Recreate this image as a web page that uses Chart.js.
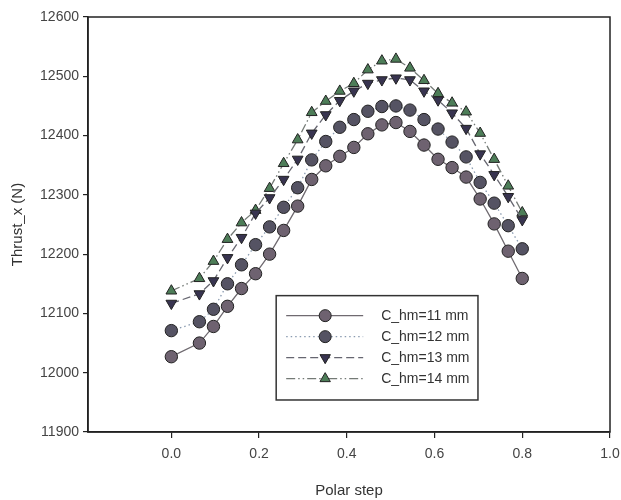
<!DOCTYPE html>
<html>
<head>
<meta charset="utf-8">
<script src="https://cdn.jsdelivr.net/npm/chart.js@4/dist/chart.umd.min.js"></script>
<style>
html,body{margin:0;padding:0;background:#fff;}
#wrap{width:621px;height:500px;position:relative;}
</style>
</head>
<body>
<div id="wrap"><canvas id="c" width="621" height="500"></canvas></div>
<script>
const polarStep = [0, 0.064, 0.096, 0.128, 0.16, 0.192, 0.224, 0.256, 0.288, 0.32, 0.352, 0.384, 0.416, 0.448, 0.48, 0.512, 0.544, 0.576, 0.608, 0.64, 0.672, 0.704, 0.736, 0.768, 0.8];
const chm11 = [12027, 12050, 12078, 12112, 12142, 12167, 12200, 12240, 12281, 12326, 12349, 12365, 12380, 12403, 12418, 12422, 12407, 12384, 12360, 12346, 12330, 12293, 12251, 12205, 12159];
const chm12 = [12071, 12086, 12107, 12150, 12182, 12216, 12246, 12279, 12312, 12359, 12390, 12414, 12427, 12441, 12449, 12450, 12443, 12427, 12411, 12389, 12364, 12321, 12286, 12248, 12209];
const chm13 = [12117, 12133, 12155, 12194, 12228, 12269, 12295, 12326, 12360, 12404, 12435, 12459, 12475, 12488, 12494, 12497, 12494, 12475, 12460, 12438, 12412, 12369, 12334, 12297, 12258];
const chm14 = [12138, 12159, 12188, 12225, 12253, 12274, 12311, 12353, 12393, 12439, 12458, 12475, 12488, 12511, 12526, 12529, 12514, 12493, 12471, 12455, 12440, 12404, 12360, 12315, 12270];
const seriesLabels = ["C_hm=11 mm", "C_hm=12 mm", "C_hm=13 mm", "C_hm=14 mm"];
const xTicks = [0, 0.2, 0.4, 0.6, 0.8, 1.0];
const yTicks = [11900, 12000, 12100, 12200, 12300, 12400, 12500, 12600];

const pts = arr => arr.map((v, i) => ({x: polarStep[i], y: v}));

const styles = [
  {line: '#6f6a70', dash: [], fill: '#6e6270', style: 'circle', rot: 0},
  {line: '#8a9bb0', dash: [1.5, 3], fill: '#555363', style: 'circle', rot: 0},
  {line: '#666670', dash: [8, 4], fill: '#383450', style: 'triangle', rot: 180},
  {line: '#747a76', dash: [9, 3, 1.5, 3, 1.5, 3], fill: '#4d7d58', style: 'triangle', rot: 0}
];
const seriesData = [chm11, chm12, chm13, chm14];

const datasets = seriesData.map((arr, k) => ({
  label: seriesLabels[k],
  data: pts(arr),
  borderColor: styles[k].line,
  borderWidth: 1.3,
  borderDash: styles[k].dash,
  pointStyle: styles[k].style,
  rotation: styles[k].rot,
  pointRadius: 6.2,
  pointBackgroundColor: styles[k].fill,
  pointBorderColor: '#222',
  pointBorderWidth: 1,
  tension: 0,
  fill: false
}));

const framePlugin = {
  id: 'frame',
  afterDatasetsDraw(chart) {
    const {ctx, chartArea: a} = chart;
    ctx.save();
    ctx.strokeStyle = '#222';
    ctx.lineWidth = 1.5;
    ctx.strokeRect(a.left, a.top, a.right - a.left, a.bottom - a.top);
    ctx.restore();
  }
};

const legendPlugin = {
  id: 'boxLegend',
  afterDraw(chart) {
    const {ctx} = chart;
    const xs = chart.scales.x, ys = chart.scales.y;
    const x0 = xs.getPixelForValue(0.239), x1 = xs.getPixelForValue(0.699); // legend box extent
    const y0 = ys.getPixelForValue(12130), y1 = ys.getPixelForValue(11954);
    ctx.save();
    ctx.fillStyle = '#fff';
    ctx.fillRect(x0, y0, x1 - x0, y1 - y0);
    ctx.strokeStyle = '#333';
    ctx.lineWidth = 1.5;
    ctx.strokeRect(x0, y0, x1 - x0, y1 - y0);
    const rowH = 21;
    const startY = y0 + 20;
    for (let k = 0; k < 4; k++) {
      const y = startY + k * rowH;
      const s = styles[k];
      ctx.strokeStyle = s.line;
      ctx.lineWidth = 1.3;
      ctx.setLineDash(s.dash);
      ctx.beginPath();
      ctx.moveTo(x0 + 10, y);
      ctx.lineTo(x0 + 87, y);
      ctx.stroke();
      ctx.setLineDash([]);
      ctx.fillStyle = s.fill;
      ctx.strokeStyle = '#222';
      ctx.lineWidth = 1;
      Chart.helpers.drawPoint(ctx, {pointStyle: s.style, radius: 6, rotation: s.rot, borderWidth: 1}, x0 + 49, y);
      ctx.fillStyle = '#333';
      ctx.font = '14px "Liberation Sans", Arial, sans-serif';
      ctx.textBaseline = 'middle';
      ctx.textAlign = 'left';
      ctx.fillText(seriesLabels[k], x0 + 105, y);
    }
    ctx.restore();
  }
};

const tickFont = {family: '"Liberation Sans", Arial, sans-serif', size: 14};
const titleFont = {family: '"Liberation Sans", Arial, sans-serif', size: 15};

new Chart(document.getElementById('c'), {
  type: 'line',
  data: {datasets},
  options: {
    responsive: false,
    animation: false,
    devicePixelRatio: 1,
    layout: {padding: {left: 0, right: 11, top: 17, bottom: 0}},
    plugins: {legend: {display: false}, tooltip: {enabled: false}},
    scales: {
      x: {
        type: 'linear',
        min: -0.19,
        max: 1.0,
        afterBuildTicks: s => { s.ticks = xTicks.map(v => ({value: v})); },
        afterFit: s => { s.height = 68; s.paddingRight = 0; s.paddingLeft = 0; },
        ticks: {color: '#444', font: tickFont, padding: 8, maxRotation: 0, callback: v => Number(v).toFixed(1)},
        grid: {display: true, drawOnChartArea: false, drawTicks: true, tickLength: 6, color: '#222', lineWidth: 1.2},
        border: {display: true, color: '#222', width: 1.5},
        title: {display: true, text: 'Polar step', color: '#333', font: titleFont, padding: {top: 4, bottom: 0}}
      },
      y: {
        type: 'linear',
        min: 11900,
        max: 12600,
        afterBuildTicks: s => { s.ticks = yTicks.map(v => ({value: v})); },
        afterFit: s => { s.width = 88; },
        ticks: {color: '#444', font: tickFont, padding: 4, callback: v => String(v)},
        grid: {display: true, drawOnChartArea: false, drawTicks: true, tickLength: 5, color: '#222', lineWidth: 1.2},
        border: {display: true, color: '#222', width: 1.5},
        title: {display: true, text: 'Thrust_x (N)', color: '#333', font: titleFont, padding: {top: 9, bottom: 4}}
      }
    }
  },
  plugins: [framePlugin, legendPlugin]
});
</script>
</body>
</html>
